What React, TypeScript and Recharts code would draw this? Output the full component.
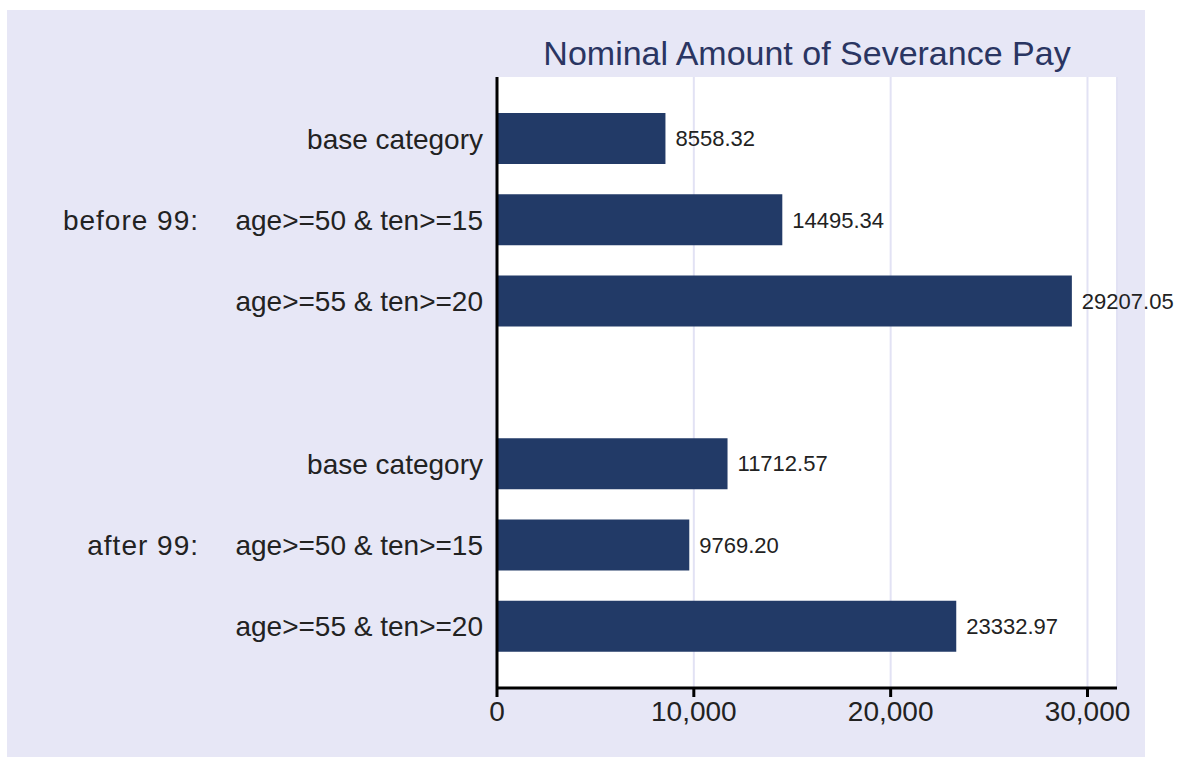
import { BarChart, Bar, XAxis, YAxis, CartesianGrid, LabelList } from 'recharts'

const periods = ['before 99:', 'after 99:']
const conditions = ['base category', 'age>=50 & ten>=15', 'age>=55 & ten>=20']
const before99 = [8558.32, 14495.34, 29207.05]
const after99 = [11712.57, 9769.2, 23332.97]
const xTicks = [0, 10000, 20000, 30000]

// one row per bar, with an empty row between the two periods
const rows: { id: string; label: string; group: string; value: number | null }[] = []
;[before99, after99].forEach((vals, p) => {
  if (p > 0) rows.push({ id: 'gap', label: '', group: '', value: null })
  vals.forEach((v, i) => {
    rows.push({ id: `${p}-${i}`, label: conditions[i], group: i === 1 ? periods[p] : '', value: v })
  })
})

const FONT = '"Liberation Sans", Arial, sans-serif'
const NAVY = '#223a67'

function CategoryTick({ x, y, payload }: any) {
  const row = rows.find(r => r.id === payload.value)
  if (!row) return null
  return (
    <g>
      <text x={x} y={y} dy="0.36em" textAnchor="end" fontSize={28} fill="#222" fontFamily={FONT}>{row.label}</text>
      {row.group && (
        <text x={199} y={y} dy="0.36em" textAnchor="end" fontSize={28} fill="#222" fontFamily={FONT} letterSpacing={1}>{row.group}</text>
      )}
    </g>
  )
}

export default function App() {
  return (
    <div style={{ position: 'absolute', left: 0, top: 0, width: 1180, height: 757, background: '#fff', overflow: 'hidden' }}>
      <div style={{ position: 'absolute', left: 7, top: 10, width: 1138, height: 760, background: '#e7e7f6' }} />
      <div style={{ position: 'absolute', left: 497, top: 32, width: 620, textAlign: 'center', fontFamily: FONT, fontSize: 34, lineHeight: '42px', color: '#2a3562' }}>
        Nominal Amount of Severance Pay
      </div>
      <div style={{ position: 'absolute', left: 0, top: 0 }}>
        <BarChart width={1180} height={757} data={rows} layout="vertical"
          margin={{ top: 77, right: 63, bottom: 29, left: 0 }}>
          <CartesianGrid horizontal={false} stroke="#e2e2f4" strokeWidth={2} fill="#fff" />
          <XAxis type="number" domain={[0, 31500]} ticks={xTicks} height={40}
            tickFormatter={(v: number) => v.toLocaleString('en-US')}
            axisLine={{ stroke: '#000', strokeWidth: 3 }} tickLine={{ stroke: '#000', strokeWidth: 3 }}
            tickSize={9} tickMargin={4}
            tick={{ fontSize: 28, fill: '#222', fontFamily: FONT }} />
          <YAxis type="category" dataKey="id" width={497} padding={{ top: 21, bottom: 21 }}
            axisLine={{ stroke: '#000', strokeWidth: 3 }} tickLine={false}
            tickSize={0} tickMargin={14} interval={0} tick={<CategoryTick />} />
          <Bar dataKey="value" fill={NAVY} barSize={51} isAnimationActive={false}>
            <LabelList dataKey="value" position="right" offset={10} fontSize={22} fill="#222" fontFamily={FONT}
              formatter={(v: any) => (v == null ? '' : Number(v).toFixed(2))} />
          </Bar>
        </BarChart>
      </div>
    </div>
  )
}
